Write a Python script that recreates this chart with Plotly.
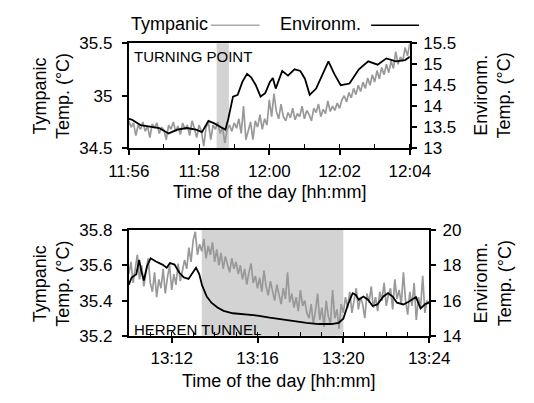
import pandas as pd
import plotly.graph_objects as go

# ---------------- data ----------------
top_start = "2020-01-01 11:56:00"
bot_start = "2020-01-01 13:10:00"

# Tympanic (top), sampled every 4 s
top_tymp_step_s = 4
top_tymp = [
    34.76, 34.70, 34.74, 34.62, 34.72, 34.68, 34.75, 34.66, 34.71, 34.60,
    34.73, 34.69, 34.74, 34.64, 34.70, 34.67, 34.58, 34.72, 34.68, 34.75,
    34.66, 34.71, 34.63, 34.74, 34.68, 34.72, 34.62, 34.76, 34.69, 34.60,
    34.72, 34.66, 34.52, 34.70, 34.74, 34.58, 34.72, 34.68, 34.75, 34.64,
    34.70, 34.55, 34.68,
    34.72, 34.66, 34.74, 34.69, 34.78, 34.64, 34.90, 34.58, 34.67, 34.75,
    34.58, 34.76, 34.70, 34.82, 34.68, 34.78, 34.72,
    34.96, 34.80, 35.02, 34.85, 34.78, 34.92, 34.80, 34.76, 34.84, 34.79,
    34.88, 34.77, 34.83, 34.80, 34.90, 34.78, 34.86, 34.82, 34.76, 34.88,
    34.84, 34.92, 34.80, 34.87, 34.83, 34.95, 34.85, 34.90, 34.86, 34.93,
    34.88,
    34.96, 35.00, 34.94, 35.03, 34.98, 35.07, 35.01, 35.10, 35.04, 35.13,
    35.07, 35.17, 35.10, 35.20, 35.13, 35.24, 35.16, 35.27, 35.20, 35.30,
    35.22, 35.33, 35.26, 35.42, 35.30, 35.37, 35.33, 35.46, 35.38, 35.50,
]

# Environment (top)
top_env_sec = [0, 5, 20, 36, 52, 68, 83, 99, 115, 125,
               136, 146, 157, 165, 170, 178, 186, 194, 202, 209,
               217, 225, 233, 241, 246, 251, 262, 272, 283, 293,
               301, 309, 320, 330, 341, 351, 362, 377, 393, 409,
               425, 440, 456, 472, 480]
top_env = [13.70, 13.68, 13.55, 13.52, 13.48, 13.35, 13.44, 13.48, 13.44, 13.38,
           13.65, 13.59, 13.50, 13.44, 13.70, 14.23, 14.27, 14.58, 14.77, 14.69,
           14.50, 14.23, 14.31, 14.58, 14.67, 14.42, 14.84, 14.73, 14.88, 14.84,
           14.65, 14.27, 14.42, 14.73, 15.07, 14.77, 14.50, 14.54, 14.88, 15.07,
           14.99, 15.14, 15.07, 15.10, 15.18]
top_shade = ["2020-01-01 11:58:30", "2020-01-01 11:58:51"]

# Tympanic (bottom), sampled every 6 s
bot_tymp_step_s = 6
bot_tymp = [
    35.55, 35.62, 35.50, 35.58, 35.66, 35.52, 35.60, 35.48, 35.57, 35.64, 35.50,
    35.45, 35.56, 35.42, 35.52, 35.47, 35.58, 35.44, 35.53, 35.60, 35.46, 35.55,
    35.49, 35.61, 35.51, 35.57,
    35.63, 35.58, 35.70, 35.62, 35.74, 35.79, 35.66, 35.72,
    35.68, 35.75, 35.64, 35.71, 35.66, 35.73, 35.62, 35.69, 35.60, 35.67, 35.58,
    35.65, 35.61, 35.56, 35.64, 35.58, 35.62,
    35.55, 35.60, 35.52, 35.58, 35.49, 35.56, 35.61, 35.50, 35.54, 35.47, 35.53,
    35.45, 35.57, 35.48, 35.43, 35.51, 35.46, 35.40, 35.49, 35.44,
    35.38, 35.47, 35.41, 35.56, 35.39, 35.44, 35.36, 35.42, 35.34, 35.46, 35.37,
    35.40, 35.33,
    35.30, 35.38, 35.27, 35.34, 35.44, 35.29, 35.36, 35.25, 35.40, 35.31, 35.27,
    35.46, 35.30, 35.35, 35.24, 35.38, 35.33,
    35.42, 35.36, 35.45, 35.33, 35.40, 35.47, 35.35, 35.42, 35.38, 35.30, 35.44,
    35.39, 35.48, 35.36, 35.42, 35.34, 35.45, 35.40, 35.50, 35.37, 35.43, 35.47,
    35.35, 35.52, 35.41, 35.46, 35.38, 35.56, 35.40, 35.32, 35.45, 35.37, 35.50,
    35.29, 35.42, 35.36, 35.54, 35.33, 35.40, 35.38,
]

# Environment (bottom)
bot_env_sec = [0, 8, 21, 29, 35, 42, 51, 61, 76, 94,
               106, 115, 128, 141, 154, 167, 179, 188, 197, 205,
               218, 231, 248, 265, 291, 325, 360, 394, 428, 463,
               497, 531, 566, 587, 600, 613, 626, 635, 643, 656,
               669, 682, 695, 712, 725, 738, 750, 768, 785, 803,
               816, 829, 840]
bot_env = [16.90, 17.31, 17.50, 18.31, 17.68, 17.14, 17.95, 18.40, 18.22, 18.04,
           17.86, 18.13, 18.04, 17.59, 17.31, 17.23, 17.59, 17.86, 17.50, 16.86,
           16.23, 15.88, 15.61, 15.42, 15.28, 15.21, 15.15, 15.03, 14.92, 14.83,
           14.74, 14.67, 14.67, 14.74, 14.97, 15.78, 16.42, 16.32, 16.05, 16.23,
           16.05, 15.69, 15.78, 16.23, 16.42, 16.23, 15.88, 15.78, 15.96, 16.20,
           15.55, 15.80, 15.90]
bot_shade = ["2020-01-01 13:13:24", "2020-01-01 13:20:00"]

top_xrange = ["2020-01-01 11:56:00", "2020-01-01 12:04:00"]
bot_xrange = ["2020-01-01 13:10:00", "2020-01-01 13:24:00"]


def times(start, secs):
    return pd.Timestamp(start) + pd.to_timedelta(secs, unit="s")


top_tymp_t = times(top_start, [i * top_tymp_step_s for i in range(len(top_tymp))])
top_env_t = times(top_start, top_env_sec)
bot_tymp_t = times(bot_start, [i * bot_tymp_step_s for i in range(len(bot_tymp))])
bot_env_t = times(bot_start, bot_env_sec)

# ---------------- figure ----------------
W, H = 534, 403
FONT = "Liberation Sans"
GRAY = "#999999"
SHADE = "#d3d3d3"

fig = go.Figure()
fig.add_trace(go.Scatter(x=top_tymp_t, y=top_tymp, mode="lines",
                         line=dict(color=GRAY, width=1.7), xaxis="x", yaxis="y"))
fig.add_trace(go.Scatter(x=top_env_t, y=top_env, mode="lines",
                         line=dict(color="black", width=1.8), xaxis="x", yaxis="y2"))
fig.add_trace(go.Scatter(x=bot_tymp_t, y=bot_tymp, mode="lines",
                         line=dict(color=GRAY, width=1.7), xaxis="x2", yaxis="y3"))
fig.add_trace(go.Scatter(x=bot_env_t, y=bot_env, mode="lines",
                         line=dict(color="black", width=1.8), xaxis="x2", yaxis="y4"))


def px(xp):
    return xp / W


def py(yp):
    return 1 - yp / H


top_dom_x = [px(117), px(422)]
top_dom_y = [py(146), py(36)]
bot_dom_x = [px(117), px(443)]
bot_dom_y = [py(343), py(232)]

tickfont = dict(family=FONT, size=17, color="black")
common_axis = dict(showline=True, linecolor="black", linewidth=2, showgrid=False,
                   zeroline=False, tickfont=tickfont, ticks="outside",
                   ticklen=5, tickwidth=1.5, tickcolor="black")
left_y = dict(common_axis, ticklabelstandoff=6)
right_y = dict(common_axis, ticklabelstandoff=3)
x_ax = dict(common_axis, ticklabelstandoff=1)

fig.update_layout(
    width=W, height=H, margin=dict(l=0, r=0, t=0, b=0),
    paper_bgcolor="white", plot_bgcolor="white", showlegend=False,
    font=dict(family=FONT, color="black"),
    xaxis=dict(domain=top_dom_x, anchor="y", type="date", range=top_xrange,
               tickformat="%H:%M", dtick=120000, tick0=top_xrange[0], mirror=True,
               minor=dict(dtick=60000, ticks="inside", ticklen=4, tickwidth=1.2,
                          tickcolor="black"),
               **x_ax),
    yaxis=dict(domain=top_dom_y, anchor="x", range=[34.5, 35.5], dtick=0.5,
               mirror=True, **left_y),
    yaxis2=dict(overlaying="y", anchor="x", side="right", range=[13, 15.5], dtick=0.5,
                **right_y),
    xaxis2=dict(domain=bot_dom_x, anchor="y3", type="date", range=bot_xrange,
                tickformat="%H:%M", dtick=240000, tick0="2020-01-01 13:12:00",
                mirror=True,
                minor=dict(dtick=60000, tick0=bot_xrange[0], ticks="inside",
                           ticklen=4, tickwidth=1.2, tickcolor="black"),
                **x_ax),
    yaxis3=dict(domain=bot_dom_y, anchor="x2", range=[35.2, 35.8], dtick=0.2,
                mirror=True, **left_y),
    yaxis4=dict(overlaying="y3", anchor="x2", side="right", range=[14, 20], dtick=2,
                **right_y),
)

# shaded periods
fig.add_shape(type="rect", xref="x", yref="y domain", x0=top_shade[0], x1=top_shade[1],
              y0=0, y1=1, fillcolor=SHADE, line=dict(width=0), layer="below")
fig.add_shape(type="rect", xref="x2", yref="y3 domain", x0=bot_shade[0], x1=bot_shade[1],
              y0=0, y1=1, fillcolor=SHADE, line=dict(width=0), layer="below")

title_font = dict(family=FONT, size=18, color="black")
# axis titles
for yc in (91, 288):
    fig.add_annotation(text="Tympanic<br>Temp. (°C)", xref="paper", yref="paper",
                       x=px(33), y=py(yc), textangle=-90, showarrow=False,
                       font=title_font, xanchor="center", yanchor="middle")
    fig.add_annotation(text="Environm.<br>Temp. (°C)", xref="paper", yref="paper",
                       x=px(512), y=py(yc), textangle=-90, showarrow=False,
                       font=title_font, xanchor="center", yanchor="middle")
fig.add_annotation(text="Time of the day [hh:mm]", xref="paper", yref="paper",
                   x=px(269.5), y=py(192), showarrow=False, font=title_font,
                   xanchor="center", yanchor="middle")
fig.add_annotation(text="Time of the day [hh:mm]", xref="paper", yref="paper",
                   x=px(280), y=py(390), showarrow=False, font=title_font,
                   xanchor="center", yanchor="middle")

# in-plot labels
label_font = dict(family=FONT, size=15, color="black")
fig.add_annotation(text="TURNING POINT", xref="paper", yref="paper", x=px(121), y=py(49.5),
                   showarrow=False, font=label_font, xanchor="left", yanchor="middle")
fig.add_annotation(text="HERREN TUNNEL", xref="paper", yref="paper", x=px(120), y=py(336),
                   showarrow=False, font=label_font, xanchor="left", yanchor="middle")

# legend (manual, text then line sample)
fig.add_annotation(text="Tympanic", xref="paper", yref="paper", x=px(117), y=py(16),
                   showarrow=False, font=title_font, xanchor="left", yanchor="middle")
fig.add_shape(type="line", xref="paper", yref="paper", x0=px(206), x1=px(259),
              y0=py(17), y1=py(17), line=dict(color="#aaaaaa", width=1.6))
fig.add_annotation(text="Environm.", xref="paper", yref="paper", x=px(279), y=py(16),
                   showarrow=False, font=title_font, xanchor="left", yanchor="middle")
fig.add_shape(type="line", xref="paper", yref="paper", x0=px(380), x1=px(432),
              y0=py(17), y1=py(17), line=dict(color="black", width=1.6))

# remove the default page margin so the figure fills the window exactly
fig.write_html("out.html",
               config={"displayModeBar": False},
               post_script="document.body.style.margin='0';document.body.style.overflow='hidden';")
